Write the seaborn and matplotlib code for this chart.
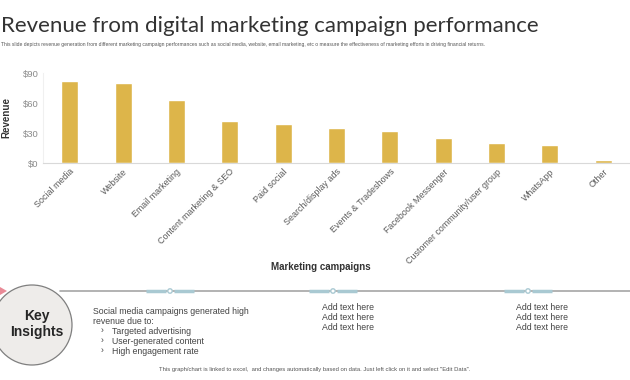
import matplotlib
matplotlib.use('Agg')
import matplotlib.pyplot as plt
import seaborn as sns
import pandas as pd
from matplotlib.patches import Circle, Polygon

campaigns = ['Social media', 'Website', 'Email marketing', 'Content marketing & SEO',
             'Paid social', 'Search/display ads', 'Events & Tradeshows',
             'Facebook Messenger', 'Customer community/user group', 'WhatsApp', 'Other']
revenue = [82, 80, 63, 42, 39, 35, 32, 25, 20, 18, 3]
y_ticks = [0, 30, 60, 90]
y_tick_labels = ['$0', '$30', '$60', '$90']

insight_main = ['Social media campaigns generated high', 'revenue due to:']
insight_bullets = ['Targeted advertising', 'User-generated content', 'High engagement rate']
add_text = ['Add text here', 'Add text here', 'Add text here']

title = 'Revenue from digital marketing campaign performance'
subtitle = ('This slide depicts revenue generation from different marketing campaign performances '
            'such as social media, website, email marketing, etc o measure the effectiveness of '
            'marketing efforts in driving financial returns.')
footer = ('This graph/chart is linked to excel,  and changes automatically based on data. '
          'Just left click on it and select "Edit Data".')

sns.set_style('white')
plt.rcParams['font.family'] = ['Liberation Sans', 'DejaVu Sans']

df = pd.DataFrame({'campaign': campaigns, 'revenue': revenue})

fig = plt.figure(figsize=(6.3, 3.8), dpi=100)

# overlay in pixel coordinates for decorations
deco = fig.add_axes([0, 0, 1, 1])
deco.set_xlim(0, 630)
deco.set_ylim(380, 0)
deco.axis('off')

ax = fig.add_axes([43 / 630, 217 / 380, 587 / 630, 90 / 380])
sns.barplot(data=df, x='campaign', y='revenue', color='#DDB54A', width=0.32,
            saturation=1, ax=ax)
ax.set_xlim(-0.5, len(campaigns) - 0.5)
ax.set_ylim(0, 90)
ax.set_yticks(y_ticks)
ax.set_yticklabels(y_tick_labels, fontsize=6.8, color='#8a8a8a')
ax.set_xticks(range(len(campaigns)))
ax.set_xticklabels(campaigns, rotation=45, ha='right', rotation_mode='anchor',
                   fontsize=6.4, color='#595959')
ax.tick_params(axis='both', length=0, pad=3)
ax.set_ylabel('Revenue', fontsize=7, fontweight='bold', color='#333333', labelpad=8)
ax.set_xlabel('Marketing campaigns', fontsize=7, fontweight='bold', color='#333333')
ax.xaxis.set_label_coords(0.473, -1.1)
for side in ['top', 'right']:
    ax.spines[side].set_visible(False)
ax.spines['left'].set_color('#f0f0f0')
ax.spines['bottom'].set_color('#d9d9d9')
ax.spines['left'].set_linewidth(0.8)
ax.spines['bottom'].set_linewidth(0.8)

# title and subtitle
deco.text(1, 32, title, fontsize=16, color='#333333', family=['Lato', 'DejaVu Sans'],
          va='baseline')
deco.text(1, 46, subtitle, fontsize=3.6, color='#555555', va='baseline')

# timeline line
deco.plot([60, 630], [291, 291], color='#a6a6a6', lw=1.2, zorder=1)
for cx in [170, 333, 528]:
    deco.plot([cx - 24, cx - 4], [291, 291], color='#a9c9d2', lw=2.5,
              solid_capstyle='butt', zorder=2)
    deco.plot([cx + 4, cx + 24], [291, 291], color='#a9c9d2', lw=2.5,
              solid_capstyle='butt', zorder=2)
    deco.add_patch(Circle((cx, 291), 2.2, facecolor='white', edgecolor='#a9c9d2',
                          lw=1, zorder=3))

# key insights circle
deco.add_patch(Circle((32, 325), 40, facecolor='#eeecea', edgecolor='#7f7f7f',
                      lw=0.9, zorder=3))
deco.add_patch(Polygon([[0, 287], [7, 291], [0, 295]], closed=True,
                       facecolor='#e98a97', edgecolor='none', zorder=4))
deco.text(37, 324, 'Key\nInsights', fontsize=10, fontweight='bold', color='#262626',
          ha='center', va='center', linespacing=1.15, zorder=5)

# insight texts
y0 = 311
for i, line in enumerate(insight_main):
    deco.text(93, y0 + i * 10, line, fontsize=6.3, color='#444444', va='center')
for i, b in enumerate(insight_bullets):
    yy = y0 + (i + 2) * 10
    deco.text(101, yy, '\u203a', fontsize=6.3, color='#444444', va='center')
    deco.text(112, yy, b, fontsize=6.3, color='#444444', va='center')
for x0 in [322, 516]:
    for i, line in enumerate(add_text):
        deco.text(x0, 308 + i * 10, line, fontsize=6.3, color='#444444', va='center')

deco.text(315, 369, footer, fontsize=4.2, color='#555555', ha='center', va='center')

fig.savefig('out.png', dpi=100)
